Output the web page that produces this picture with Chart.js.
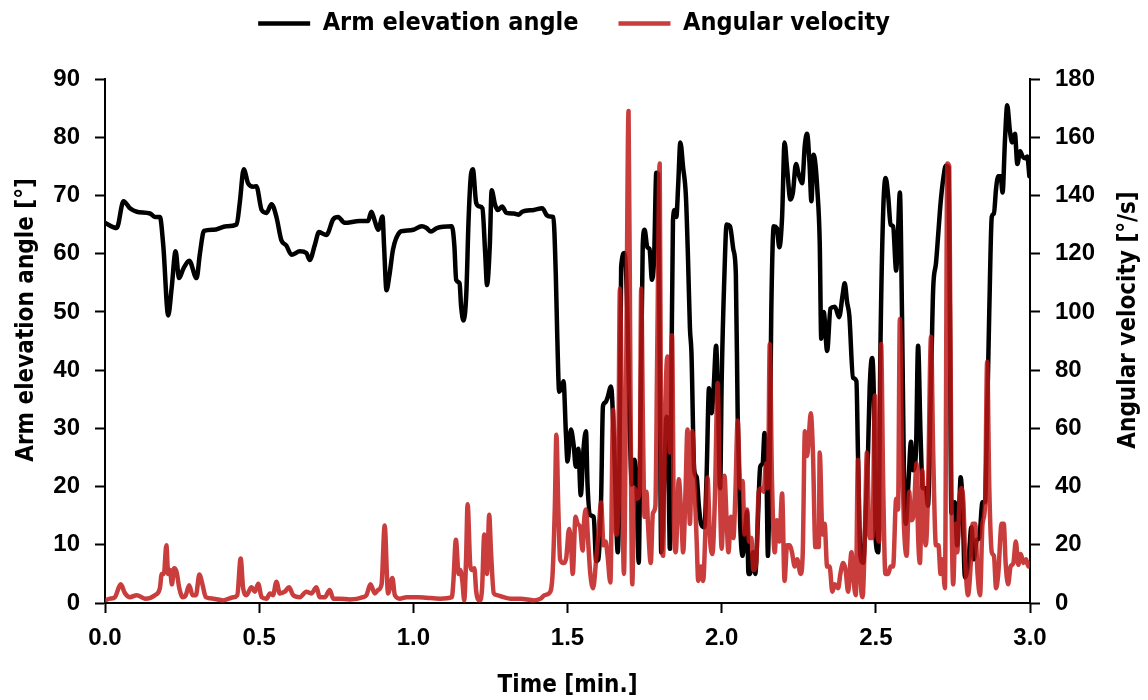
<!DOCTYPE html>
<html>
<head>
<meta charset="utf-8">
<script src="https://cdn.jsdelivr.net/npm/chart.js@4.4.1/dist/chart.umd.min.js"></script>
<style>
  html, body { margin: 0; padding: 0; background: #fff; }
  #wrap { width: 1148px; height: 700px; position: relative; }
</style>
</head>
<body>
<div id="wrap"><canvas id="chart"></canvas></div>
<script>
// time [min.] and arm elevation angle [deg]
const angleTime = [
  0, 0.038, 0.06, 0.081, 0.103, 0.146, 0.162, 0.178, 0.189, 0.205,
  0.216, 0.229, 0.24, 0.254, 0.273, 0.297, 0.308, 0.321, 0.351, 0.394,
  0.427, 0.437, 0.45, 0.464, 0.481, 0.491, 0.508, 0.524, 0.54, 0.556,
  0.572, 0.588, 0.605, 0.632, 0.653, 0.664, 0.68, 0.694, 0.718, 0.74,
  0.756, 0.777, 0.826, 0.853, 0.864, 0.875, 0.886, 0.9, 0.905, 0.913,
  0.923, 0.934, 0.956, 0.967, 1.0, 1.027, 1.043, 1.057, 1.076, 1.125,
  1.133, 1.139, 1.15, 1.155, 1.163, 1.172, 1.179, 1.187, 1.193, 1.204,
  1.215, 1.224, 1.233, 1.239, 1.248, 1.254, 1.265, 1.274, 1.288, 1.302,
  1.326, 1.342, 1.353, 1.391, 1.418, 1.433, 1.443, 1.454, 1.462, 1.467,
  1.473, 1.48, 1.487, 1.495, 1.5, 1.511, 1.52, 1.527, 1.535, 1.543,
  1.552, 1.56, 1.565, 1.574, 1.585, 1.593, 1.6, 1.609, 1.615, 1.622,
  1.63, 1.641, 1.652, 1.663, 1.668, 1.674, 1.685, 1.694, 1.701, 1.709,
  1.717, 1.724, 1.731, 1.737, 1.744, 1.75, 1.759, 1.766, 1.774, 1.781,
  1.788, 1.794, 1.798, 1.804, 1.813, 1.821, 1.826, 1.832, 1.837, 1.842,
  1.848, 1.853, 1.859, 1.866, 1.875, 1.884, 1.891, 1.897, 1.902, 1.911,
  1.919, 1.926, 1.933, 1.944, 1.951, 1.959, 1.967, 1.974, 1.982, 1.989,
  1.995, 2.0, 2.009, 2.016, 2.027, 2.038, 2.046, 2.052, 2.06, 2.068,
  2.076, 2.082, 2.087, 2.092, 2.101, 2.109, 2.117, 2.125, 2.133, 2.139,
  2.145, 2.15, 2.156, 2.161, 2.169, 2.179, 2.187, 2.196, 2.204, 2.212,
  2.223, 2.231, 2.241, 2.25, 2.261, 2.27, 2.277, 2.285, 2.291, 2.298,
  2.304, 2.31, 2.318, 2.323, 2.331, 2.342, 2.353, 2.367, 2.381, 2.392,
  2.399, 2.407, 2.414, 2.426, 2.437, 2.442, 2.45, 2.459, 2.466, 2.475,
  2.48, 2.488, 2.493, 2.5, 2.508, 2.515, 2.524, 2.532, 2.54, 2.548,
  2.556, 2.566, 2.572, 2.578, 2.585, 2.591, 2.597, 2.606, 2.614, 2.621,
  2.63, 2.637, 2.645, 2.652, 2.662, 2.669, 2.679, 2.686, 2.695, 2.703,
  2.71, 2.719, 2.727, 2.736, 2.74, 2.745, 2.751, 2.756, 2.764, 2.771,
  2.775, 2.781, 2.789, 2.8, 2.81, 2.818, 2.827, 2.835, 2.846, 2.854,
  2.861, 2.868, 2.876, 2.883, 2.89, 2.897, 2.905, 2.911, 2.919, 2.926,
  2.935, 2.942, 2.951, 2.959, 2.968, 2.976, 2.984, 2.991, 2.998
];
const angleValues = [
  65.3, 64.4, 69.0, 67.8, 67.2, 66.9, 66.3, 66.3, 61.4, 49.4,
  54.0, 60.4, 55.8, 57.4, 58.8, 55.8, 60.1, 63.9, 64.1, 64.7,
  65.0, 68.7, 74.5, 72.1, 71.5, 71.6, 67.5, 67.0, 68.5, 66.3,
  62.3, 61.4, 59.8, 60.4, 60.1, 58.9, 61.4, 63.7, 63.2, 65.9,
  66.3, 65.3, 65.6, 65.6, 67.2, 65.6, 64.1, 66.4, 61.4, 53.7,
  56.5, 60.7, 63.7, 63.9, 64.1, 64.7, 64.4, 63.8, 64.4, 64.7,
  61.4, 55.5, 54.9, 50.9, 48.5, 53.4, 65.6, 73.6, 74.5, 68.7,
  68.1, 67.8, 60.1, 54.6, 61.4, 70.9, 68.4, 67.5, 68.1, 67.0,
  66.9, 66.7, 67.2, 67.5, 67.8, 66.6, 66.4, 66.3, 56.5, 45.4,
  36.3, 36.9, 38.1, 28.9, 24.3, 29.8, 27.1, 23.4, 26.5, 18.5,
  26.5, 29.5, 20.3, 15.1, 14.8, 7.2, 7.5, 17.9, 33.8, 34.4,
  35.3, 37.2, 25.8, 8.7, 19.7, 57.7, 60.1, 50.3, 32, 20.3,
  24.6, 19.7, 6.9, 32, 61.4, 64.1, 61.1, 60.8, 55.5, 59.5,
  73.9, 73.6, 50.3, 8.7, 19.7, 32, 30.7, 9.3, 38.1, 65.6,
  67.5, 66.3, 71.8, 79.1, 74.8, 69.9, 58.9, 47.3, 43, 22.8,
  21.6, 16.7, 13.6, 13, 21.6, 36.9, 32.6, 36.9, 44.2, 32,
  19.7, 38.1, 56.5, 65, 64.7, 60.7, 56.5, 32, 13.6, 8.1,
  12.4, 15.7, 5, 5, 8.7, 5, 13.6, 23.4, 24, 29.2,
  23.4, 8.1, 25.8, 50.3, 64.7, 64.4, 61.1, 66.3, 79.1, 74.8,
  69.3, 70.5, 75.4, 73.6, 72.1, 78.8, 80.6, 75.4, 69, 77,
  75.4, 71.2, 62, 45.4, 50, 43.3, 50.6, 50.9, 49.1, 52.8,
  54.9, 51.6, 49.4, 38.7, 38.1, 25.8, 8.1, 6.9, 13.6, 26.5,
  36.9, 42.1, 36.9, 10.5, 8.7, 44.2, 67.5, 73, 69.9, 65,
  64.7, 57.1, 63.8, 70.5, 49.1, 22.8, 13.6, 20.9, 27.7, 22.8,
  25.8, 44.2, 28.9, 19.7, 19.7, 16.7, 38.1, 54, 58.3, 63.8,
  68.7, 73, 75.1, 74.8, 50.3, 15.4, 16.7, 17.3, 9.9, 17.3,
  21.6, 17.3, 4.4, 6.9, 13, 7.5, 10.8, 11.1, 17.3, 17.3,
  32, 50.3, 66.3, 66.9, 71.2, 73.3, 73.3, 70.5, 79.7, 85.5,
  81, 79.1, 80.6, 75.4, 77.6, 76.7, 76.4, 76.7, 73.3
];

// time [min.] and angular velocity [deg/s]
const velocityTime = [
  0, 0.016, 0.032, 0.051, 0.065, 0.081, 0.103, 0.13, 0.162, 0.178,
  0.184, 0.191, 0.199, 0.205, 0.211, 0.217, 0.224, 0.232, 0.241, 0.252,
  0.262, 0.273, 0.284, 0.295, 0.306, 0.316, 0.327, 0.351, 0.383, 0.416,
  0.429, 0.44, 0.448, 0.459, 0.475, 0.486, 0.497, 0.508, 0.524, 0.535,
  0.545, 0.556, 0.567, 0.583, 0.597, 0.61, 0.632, 0.653, 0.669, 0.686,
  0.696, 0.713, 0.729, 0.74, 0.761, 0.794, 0.837, 0.848, 0.861, 0.875,
  0.886, 0.897, 0.907, 0.918, 0.932, 0.94, 0.956,
  0.978, 1.016, 1.043, 1.087, 1.125, 1.13, 1.138, 1.147, 1.152, 1.159,
  1.165, 1.171, 1.176, 1.185, 1.191, 1.198, 1.204, 1.215, 1.223, 1.23,
  1.239, 1.246, 1.252, 1.261, 1.272, 1.293, 1.315, 1.348, 1.391, 1.413,
  1.426, 1.44, 1.451, 1.459, 1.464, 1.47, 1.476, 1.487, 1.496, 1.505,
  1.511, 1.517, 1.526, 1.533, 1.541, 1.549, 1.554, 1.56, 1.567, 1.574,
  1.583, 1.593, 1.6, 1.609, 1.617, 1.624, 1.63, 1.639, 1.648, 1.658,
  1.663, 1.67,
  1.683, 1.69, 1.698, 1.704, 1.71, 1.717, 1.726, 1.734, 1.739, 1.745,
  1.75, 1.756, 1.761, 1.77, 1.777, 1.785, 1.791, 1.799, 1.804, 1.81,
  1.817, 1.824, 1.832, 1.839, 1.845, 1.851, 1.861, 1.87, 1.875, 1.883,
  1.889, 1.897, 1.905, 1.911, 1.919, 1.924, 1.933, 1.94, 1.948, 1.954,
  1.962, 1.97, 1.978, 1.987, 1.994, 2.0, 2.009, 2.016, 2.022, 2.03,
  2.038, 2.044, 2.052, 2.06, 2.068, 2.074, 2.082, 2.089, 2.096, 2.103,
  2.112, 2.12, 2.128, 2.136, 2.144, 2.15, 2.156, 2.163, 2.172, 2.179,
  2.187, 2.196, 2.204, 2.212, 2.221, 2.228, 2.237, 2.245, 2.256, 2.263,
  2.27, 2.277, 2.283, 2.289, 2.296, 2.304, 2.315,
  2.318, 2.327, 2.334, 2.342, 2.35, 2.359, 2.367, 2.378, 2.385, 2.394,
  2.402, 2.41, 2.421, 2.428, 2.435, 2.442, 2.448, 2.457, 2.464, 2.471,
  2.48, 2.489, 2.497, 2.504, 2.511, 2.517, 2.524, 2.531, 2.54, 2.548,
  2.556, 2.566, 2.572, 2.578, 2.585, 2.591, 2.6, 2.608, 2.615, 2.623,
  2.632, 2.637, 2.643, 2.651, 2.656, 2.662, 2.669, 2.679, 2.686, 2.695,
  2.703, 2.71, 2.716, 2.724, 2.732, 2.738, 2.745, 2.751, 2.758, 2.764,
  2.771, 2.777, 2.784, 2.79, 2.799, 2.808, 2.814, 2.822, 2.83, 2.838,
  2.846, 2.854, 2.861, 2.868, 2.876, 2.883, 2.89, 2.897, 2.908, 2.915,
  2.921, 2.929, 2.937, 2.946, 2.954, 2.962, 2.97, 2.979, 2.987, 2.995,
  3.0
];
const velocityValues = [
  0.9, 1.5, 2, 6.4, 3.3, 2, 2.7, 1.5, 2.7, 5.1,
  10, 10, 19.8, 10, 11.3, 6.4, 11.9, 10.7, 5.1, 2,
  2.7, 6.1, 2.7, 2.7, 9.8, 6.4, 2, 1.5, 0.9, 2,
  2.7, 15.3, 5.1, 2.7, 5.4, 3.9, 6.6, 2, 1.5, 3.3,
  2.7, 7.3, 3.3, 3.9, 5.4, 2.7, 2, 3.9, 3.3, 5.4,
  2, 2, 4.5, 1.5, 1.5, 1.2, 2, 2.7, 6.4, 3.3,
  4.5, 6.4, 26.6, 3.3, 8.6, 2.7, 1.5,
  2, 2, 1.8, 1.5, 2, 7.6, 21.7, 10, 11.3, 7.6,
  0.9, 15, 33.9, 12.5, 11.3, 11.9, 3.9, 0.9, 5.1, 23.5,
  10, 30.3, 17.4, 3.3, 2.7, 2, 1.5, 1.5, 0.9, 1.5,
  2.7, 3.3, 8.8, 33.3, 57.8, 33.3, 15, 13.7, 15.6, 25.4,
  21.1, 10, 29.6, 27.2, 26, 18, 28.4, 32.1, 21.1, 10,
  5.1, 15, 23.5, 34.5, 19.8, 21.1, 16.2, 7, 66.4, 23.5,
  27.2, 108,
  10, 76, 169, 76, 6.4, 39.4, 35.8, 39.4, 108, 57.8,
  29.6, 38.2, 27.2, 13.7, 30.9, 33.3, 86, 151, 39.4, 16.2,
  66.4, 84.7, 51.7, 92, 27.2, 17.4, 42.5, 27.2, 17.4, 39.4,
  59.6, 27.2, 59, 43.1, 21.1, 7.6, 12.5, 7.6, 27.2, 43.1,
  22.3, 16.8, 35.8, 75.6, 39.4, 18.6, 43.7, 28.4, 17.4, 29.6,
  22.3, 35.8, 62.7, 39.4, 41.9, 23.5, 32.1, 21.1, 22.3, 11.3,
  13.7, 38.2, 39.4, 38.2, 48, 39.4, 89, 43.1, 17.4, 28.4,
  21.1, 37.6, 7.6, 19.8, 19.8, 17.4, 12.5, 15, 10, 17.4,
  59, 50.5, 57.8, 65.2, 51.7, 19.2, 19.2,
  51.7, 23.5, 27.2, 12.5, 12.5, 3.9, 6.4, 5.1, 10, 13.7,
  11.3, 3.9, 17.4, 7.6, 2.7, 49.2, 15, 2, 21.1, 51.7,
  22.3, 22.3, 71.3, 27.2, 21.1, 89, 39.4, 10, 10, 12.5,
  12.5, 35.8, 32.1, 97.6, 51.7, 27.2, 16.2, 38.2, 28.4, 30.9,
  48, 23.5, 13.7, 45.6, 27.2, 19.8, 37, 91.5, 51.7, 19.8,
  19.8, 10, 15, 5.1, 151, 150, 39.4, 6.4, 27.2, 17.4,
  34.5, 39.4, 34.5, 15, 2.7, 13.7, 27.2, 27.2, 10, 2.7,
  27.2, 33.3, 82.9, 39.4, 17.4, 16.2, 5.1, 10, 27.2, 27.2,
  13.7, 6.4, 12.5, 13.7, 21.1, 13.1, 16.8, 13.7, 15, 12.5,
  13.7
];

const xTicks = [0, 0.5, 1.0, 1.5, 2.0, 2.5, 3.0];
const seriesNames = ["Arm elevation angle", "Angular velocity"];
const axisTitles = ["Arm elevation angle [°]", "Angular velocity [°/s]", "Time [min.]"];

const BLACK = "#000000";
const RED = "rgba(190, 22, 22, 0.83)";
const tickFont = { family: "'Liberation Sans', Arial, sans-serif", size: 24, weight: "bold" };
const titleFamily = "'Liberation Sans Narrow', 'DejaVu Sans Condensed', 'Liberation Sans', sans-serif";

function pairs(xs, ys) {
    const n = Math.min(xs.length, ys.length);
    const out = [];
    for (let i = 0; i < n; i++) out.push({ x: xs[i], y: ys[i] });
    return out;
}

// fixed legend box so the plot area starts where the original does
const legendHeight = {
    id: "legendHeight",
    afterInit(chart) {
        const lg = chart.legend;
        const fit = lg.fit;
        lg.fit = function () {
            fit.call(this);
            this.height = 108;
        };
    }
};

// both y titles read bottom to top, as in the original
const yTitles = {
    id: "yTitles",
    afterDraw(chart) {
        const ctx = chart.ctx;
        ctx.save();
        ctx.fillStyle = BLACK;
        ctx.font = "bold 24px " + titleFamily;
        ctx.textAlign = "center";
        ctx.textBaseline = "middle";
        [[27, axisTitles[0]], [1129, axisTitles[1]]].forEach(([x, txt]) => {
            ctx.save();
            ctx.translate(x, 320);
            ctx.rotate(-Math.PI / 2);
            ctx.fillText(txt, 0, 0);
            ctx.restore();
        });
        ctx.restore();
    }
};

const axisLine = { color: BLACK, width: 2 };
const tickGrid = { drawOnChartArea: false, drawTicks: true, tickLength: 10, tickWidth: 2, tickColor: BLACK };

new Chart(document.getElementById("chart"), {
    type: "line",
    data: {
        datasets: [
            {
                label: seriesNames[0],
                data: pairs(angleTime, angleValues),
                yAxisID: "y",
                borderColor: BLACK,
                backgroundColor: BLACK,
                borderWidth: 4.5,
                order: 2
            },
            {
                label: seriesNames[1],
                data: pairs(velocityTime, velocityValues),
                yAxisID: "y1",
                borderColor: RED,
                backgroundColor: RED,
                borderWidth: 4.5,
                order: 1
            }
        ]
    },
    options: {
        responsive: true,
        maintainAspectRatio: false,
        animation: false,
        layout: { padding: { top: -29, left: 0, right: 0, bottom: 0 } },
        elements: {
            point: { radius: 0, hoverRadius: 0 },
            line: { cubicInterpolationMode: "monotone", borderJoinStyle: "round", borderCapStyle: "round" }
        },
        plugins: {
            tooltip: { enabled: false },
            legend: {
                position: "top",
                labels: {
                    color: BLACK,
                    font: { family: titleFamily, size: 25, weight: "bold" },
                    usePointStyle: true,
                    pointStyle: "line",
                    pointStyleWidth: 52,
                    padding: 40,
                    sort: (a, b) => a.datasetIndex - b.datasetIndex
                }
            }
        },
        scales: {
            x: {
                type: "linear",
                min: 0,
                max: 3,
                afterBuildTicks: s => { s.ticks = xTicks.map(v => ({ value: v })); },
                afterFit: s => { s.height = 97; },
                ticks: {
                    color: BLACK,
                    font: tickFont,
                    padding: 11,
                    maxRotation: 0,
                    callback: v => Number(v).toFixed(1)
                },
                grid: tickGrid,
                border: axisLine,
                title: {
                    display: true,
                    text: axisTitles[2],
                    color: BLACK,
                    font: { family: titleFamily, size: 24, weight: "bold" },
                    padding: { top: 0, bottom: 0 }
                }
            },
            y: {
                position: "left",
                min: 0,
                max: 90,
                afterFit: s => { s.width = 105; },
                ticks: { stepSize: 10, color: BLACK, font: tickFont, padding: 15 },
                grid: tickGrid,
                border: axisLine
            },
            y1: {
                position: "right",
                min: 0,
                max: 180,
                afterFit: s => { s.width = 118; },
                ticks: { stepSize: 20, color: BLACK, font: tickFont, padding: 15 },
                grid: tickGrid,
                border: axisLine
            }
        }
    },
    plugins: [legendHeight, yTitles]
});
</script>
</body>
</html>
